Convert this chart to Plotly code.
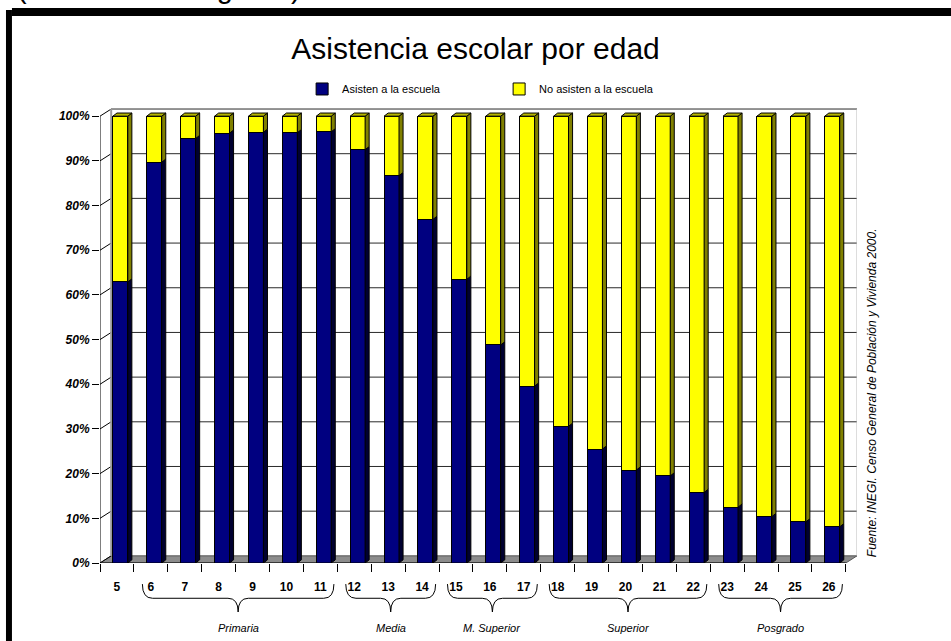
import plotly.graph_objects as go

# ---------------- data ----------------
edades = ["5", "6", "7", "8", "9", "10", "11", "12", "13", "14", "15",
          "16", "17", "18", "19", "20", "21", "22", "23", "24", "25", "26"]
asisten = [62.9, 89.7, 95.0, 96.2, 96.4, 96.3, 96.5, 92.5, 86.7, 76.9, 63.5,
           48.8, 39.6, 30.6, 25.5, 20.8, 19.5, 15.8, 12.5, 10.4, 9.2, 8.1]
no_asisten = [37.1, 10.3, 5.0, 3.8, 3.6, 3.7, 3.5, 7.5, 13.3, 23.1, 36.5,
              51.2, 60.4, 69.4, 74.5, 79.2, 80.5, 84.2, 87.5, 89.6, 90.8, 91.9]
y_ticks = [0, 10, 20, 30, 40, 50, 60, 70, 80, 90, 100]
y_ticktext = ["0%", "10%", "20%", "30%", "40%", "50%", "60%", "70%", "80%", "90%", "100%"]
grupos = ["Primaria", "Media", "M. Superior", "Superior", "Posgrado"]
grupo_inicio = ["6", "12", "15", "18", "23"]
grupo_fin = ["11", "14", "17", "22", "26"]

titulo = "Asistencia escolar por edad"
fuente = "Fuente: INEGI. Censo General de Población y Vivienda 2000."
texto_cortado = "(Primaria a Posgrado)"

# ---------------- style constants ----------------
FONT = "Arial, Liberation Sans, sans-serif"
BLUE = "#000080"
YELLOW = "#FFFF00"
BLUE_SIDE = "#000030"
YELLOW_SIDE = "#808000"
YELLOW_TOP = "#b5b500"
BAR_W = 0.44
BAR_SHIFT = 0.10
DX = 0.33      # depth of back wall (x units)
DY = 1.6       # depth of back wall (y units)
SDX = 0.12     # bar side depth
SDY = 0.7

idx = list(range(len(edades)))
n = len(edades)
x_lo, x_hi = -0.5, n - 0.5

fig = go.Figure()
fig.add_trace(go.Bar(x=idx, y=asisten, name="Asisten a la escuela",
                     width=BAR_W, offset=-BAR_W / 2 + BAR_SHIFT,
                     marker=dict(color=BLUE, line=dict(color="black", width=1))))
fig.add_trace(go.Bar(x=idx, y=no_asisten, name="No asisten a la escuela",
                     width=BAR_W, offset=-BAR_W / 2 + BAR_SHIFT,
                     marker=dict(color=YELLOW, line=dict(color="black", width=1))))

shapes = []
# back wall
shapes.append(dict(type="rect", xref="x", yref="y", x0=x_lo + DX, x1=x_hi + DX,
                   y0=DY, y1=100 + DY, fillcolor="white", line=dict(width=0), layer="below"))
# floor
shapes.append(dict(type="path", xref="x", yref="y",
                   path=f"M {x_lo},0 L {x_hi},0 L {x_hi + DX},{DY} L {x_lo + DX},{DY} Z",
                   fillcolor="#8c8c8c", line=dict(color="#555555", width=1), layer="below"))
# wall gridlines and connectors
for v in y_ticks:
    if v > 0:
        shapes.append(dict(type="line", xref="x", yref="y", x0=x_lo + DX, x1=x_hi + DX,
                           y0=v + DY, y1=v + DY, line=dict(color="#2a2a2a", width=1), layer="below"))
    shapes.append(dict(type="line", xref="x", yref="y", x0=x_lo, x1=x_lo + DX,
                       y0=v, y1=v + DY, line=dict(color="black", width=1), layer="below"))
# wall edges
shapes.append(dict(type="line", xref="x", yref="y", x0=x_lo + DX, x1=x_lo + DX,
                   y0=DY, y1=100 + DY, line=dict(color="#9a9a9a", width=2), layer="below"))
shapes.append(dict(type="line", xref="x", yref="y", x0=x_hi + DX, x1=x_hi + DX,
                   y0=DY, y1=100 + DY, line=dict(color="#bbbbbb", width=1), layer="below"))
# front axis lines
shapes.append(dict(type="line", xref="x", yref="y", x0=x_lo, x1=x_hi, y0=0, y1=0,
                   line=dict(color="black", width=1)))
shapes.append(dict(type="line", xref="x", yref="y", x0=x_lo, x1=x_lo, y0=0, y1=100,
                   line=dict(color="black", width=1)))

# 3D faces of bars
for i, (a, b) in enumerate(zip(asisten, no_asisten)):
    xl = i - BAR_W / 2 + BAR_SHIFT
    xr = xl + BAR_W
    t = a + b
    shapes.append(dict(type="path", xref="x", yref="y",
                       path=f"M {xr},0 L {xr + SDX},{SDY} L {xr + SDX},{a + SDY} L {xr},{a} Z",
                       fillcolor=BLUE_SIDE, line=dict(color="black", width=1)))
    shapes.append(dict(type="path", xref="x", yref="y",
                       path=f"M {xr},{a} L {xr + SDX},{a + SDY} L {xr + SDX},{t + SDY} L {xr},{t} Z",
                       fillcolor=YELLOW_SIDE, line=dict(color="black", width=1)))
    shapes.append(dict(type="path", xref="x", yref="y",
                       path=f"M {xl},{t} L {xl + SDX},{t + SDY} L {xr + SDX},{t + SDY} L {xr},{t} Z",
                       fillcolor=YELLOW_TOP, line=dict(color="black", width=1)))

# braces under the x axis
annotations = []
y_top, y_mid, y_bot = -0.046, -0.077, -0.107
r = 0.3
for g, s, e in zip(grupos, grupo_inicio, grupo_fin):
    x0 = edades.index(s) - 0.25
    x1 = edades.index(e) + 0.4
    xm = (x0 + x1) / 2
    path = (f"M {x0},{y_top} Q {x0},{y_mid} {x0 + r},{y_mid} L {xm - r},{y_mid} "
            f"Q {xm},{y_mid} {xm},{y_bot} Q {xm},{y_mid} {xm + r},{y_mid} "
            f"L {x1 - r},{y_mid} Q {x1},{y_mid} {x1},{y_top}")
    shapes.append(dict(type="path", xref="x", yref="paper", path=path,
                       line=dict(color="black", width=1), fillcolor="rgba(0,0,0,0)"))
    annotations.append(dict(x=xm, xref="x", y=-0.142, yref="paper", text=g, showarrow=False,
                            yanchor="middle", font=dict(family=FONT, size=11, style="italic", color="black")))

# black frame
shapes.append(dict(type="rect", xref="paper", yref="paper", x0=-0.1242, x1=-0.1163,
                   y0=-0.3, y1=1.2074, fillcolor="black", line=dict(width=0)))
shapes.append(dict(type="rect", xref="paper", yref="paper", x0=-0.1163, x1=1.3,
                   y0=1.1943, y1=1.2118, fillcolor="black", line=dict(width=0)))

annotations.append(dict(x=1.0198, xref="paper", y=0.373, yref="paper", text=fuente,
                        textangle=-90, showarrow=False, xanchor="center", yanchor="middle",
                        font=dict(family=FONT, size=12, style="italic", color="black")))
annotations.append(dict(x=0.268, xref="paper", y=1.2155, yref="paper", text=texto_cortado,
                        showarrow=False, xanchor="right", yanchor="bottom",
                        font=dict(family=FONT, size=29, color="black")))

fig.update_layout(
    width=951, height=641,
    margin=dict(l=100, r=94, t=105, b=78),
    paper_bgcolor="white", plot_bgcolor="white",
    barmode="stack",
    title=dict(text=titulo, x=0.5, xref="container", y=1 - 48 / 641, yref="container",
               xanchor="center", yanchor="middle",
               font=dict(family=FONT, size=30, color="black")),
    legend=dict(orientation="h", traceorder="normal", x=0.267, xanchor="left", y=1.035,
                yanchor="middle", entrywidth=152, entrywidthmode="pixels", itemwidth=30,
                font=dict(family=FONT, size=11, color="black"), bgcolor="rgba(0,0,0,0)"),
    xaxis=dict(range=[x_lo, x_hi + DX], tickmode="array", tickvals=idx, ticktext=edades,
               ticks="outside", ticklen=13, tickcolor="rgba(0,0,0,0)",
               tickfont=dict(family=FONT, size=12, weight="bold", color="black"),
               minor=dict(tickmode="array", tickvals=[i - 0.5 for i in range(n + 1)],
                          ticks="outside", ticklen=8, tickcolor="black", tickwidth=1),
               showline=False, showgrid=False, zeroline=False, fixedrange=True),
    yaxis=dict(range=[0, 102.5], tickmode="array", tickvals=y_ticks, ticktext=y_ticktext,
               ticks="outside", ticklen=7, tickcolor="black",
               tickfont=dict(family=FONT, size=12, weight="bold", style="italic", color="black"),
               showline=False, showgrid=False, zeroline=False, fixedrange=True),
    shapes=shapes,
    annotations=annotations,
    font=dict(family=FONT, color="black"),
)

fig.write_html("out.html", config={"displayModeBar": False},
               post_script="document.body.style.margin='0';")
